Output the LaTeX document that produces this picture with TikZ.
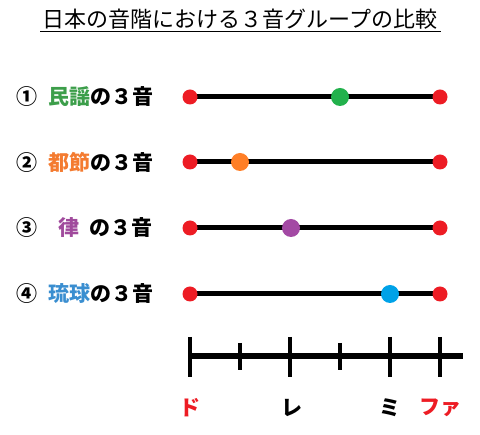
\documentclass[tikz,border=0pt]{standalone}
\usepackage{fontspec}
\setmainfont{Noto Sans CJK JP}
\definecolor{dred}{HTML}{ED1C24}
\definecolor{dgreen}{HTML}{22B14C}
\definecolor{dorange}{HTML}{FF7F27}
\definecolor{dpurple}{HTML}{A349A4}
\definecolor{dblue}{HTML}{00A2E8}
\definecolor{tgreen}{HTML}{3C9E4A}
\definecolor{torange}{HTML}{F47B30}
\definecolor{tpurple}{HTML}{A04A9C}
\definecolor{tblue}{HTML}{3A8ED0}
\newcommand{\bigtxt}{\fontsize{21}{21}\selectfont\bfseries}
\begin{document}
\begin{tikzpicture}[x=1pt,y=-1pt,line cap=butt,
	enddot/.style={circle,fill=dred,inner sep=0pt,minimum size=15pt},
	middot/.style={circle,inner sep=0pt,minimum size=18pt},
	bar/.style={line width=5pt},
	rowlabel/.style={anchor=west,inner sep=0pt,font=\bigtxt},
	note/.style={inner sep=0pt,font=\bigtxt}]
	\useasboundingbox (0,0) rectangle (480,435);
	%	\draw (0,0) grid (480,435);
	
	% title
	\node[inner sep=0pt,font=\fontsize{22}{22}\selectfont] (title) at (240,19) {日本の音階における３音グループの比較};
	\draw[line width=1.4pt] (40,31.5)--(441,31.5);
	
	% row 1
	\node[rowlabel] (lab1) at (16,97) {①\hspace{11pt}\textcolor{tgreen}{民謡}の３音};
	\coordinate (a1) at (190,97);
	\coordinate (b1) at (440,97);
	\draw[bar] (a1)--(b1);
	\node[enddot] (do1) at (a1) {};
	\node[enddot] (fa1) at (b1) {};
	\node[middot,fill=dgreen] (m1) at (340,97) {};
	
	% row 2
	\node[rowlabel] (lab2) at (16,162) {②\hspace{11pt}\textcolor{torange}{都節}の３音};
	\coordinate (a2) at (190,162);
	\coordinate (b2) at (440,162);
	\draw[bar] (a2)--(b2);
	\node[enddot] (do2) at (a2) {};
	\node[enddot] (fa2) at (b2) {};
	\node[middot,fill=dorange] (m2) at (240,162) {};
	
	% row 3
	\node[rowlabel] (lab3) at (16,228) {③\hspace{11pt}\hspace{10pt}\textcolor{tpurple}{律}\hspace{10pt}の３音};
	\coordinate (a3) at (190,228);
	\coordinate (b3) at (440,228);
	\draw[bar] (a3)--(b3);
	\node[enddot] (do3) at (a3) {};
	\node[enddot] (fa3) at (b3) {};
	\node[middot,fill=dpurple] (m3) at (291,228) {};
	
	% row 4
	\node[rowlabel] (lab4) at (16,294) {④\hspace{11pt}\textcolor{tblue}{琉球}の３音};
	\coordinate (a4) at (190,294);
	\coordinate (b4) at (440,294);
	\draw[bar] (a4)--(b4);
	\node[enddot] (do4) at (a4) {};
	\node[enddot] (fa4) at (b4) {};
	\node[middot,fill=dblue] (m4) at (390,294) {};
	
	% scale
	\draw[line width=6pt] (190,356)--(463,356);
	\draw[line width=4pt] (190,337)--(190,377);
	\draw[line width=4pt] (240,343)--(240,370);
	\draw[line width=4pt] (290,337)--(290,377);
	\draw[line width=4pt] (340,343)--(340,370);
	\draw[line width=4pt] (390,337)--(390,377);
	\draw[line width=4pt] (440,337)--(440,377);
	\node[note,text=dred] (do) at (190,408) {ド};
	\node[note] (re) at (292,408) {レ};
	\node[note] (mi) at (390,408) {ミ};
	\node[note,text=dred] (fa) at (440,408) {ファ};
\end{tikzpicture}
\end{document}
